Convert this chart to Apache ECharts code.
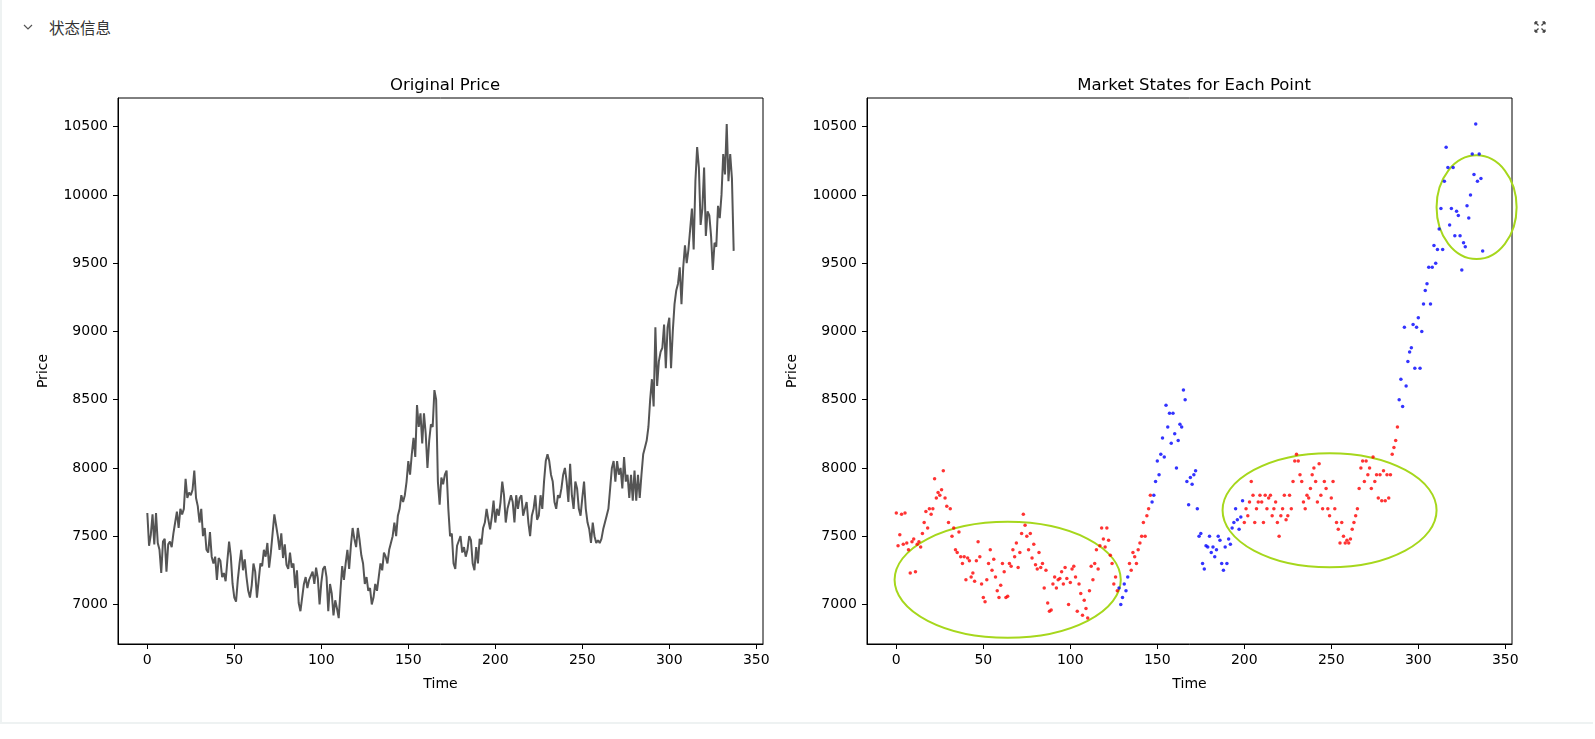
<!DOCTYPE html>
<html>
<head>
<meta charset="utf-8">
<script src="https://cdn.jsdelivr.net/npm/echarts@6/dist/echarts.min.js"></script>
<style>
html,body{margin:0;padding:0;width:1595px;height:739px;background:#fff;overflow:hidden;font-family:"DejaVu Sans",sans-serif;}
#card{position:absolute;left:0;top:0;width:1593px;height:724px;border-left:2px solid #eef2f2;border-bottom:2px solid #eef2f2;box-sizing:border-box;}
#hdr{position:absolute;left:49px;top:16px;font-family:"Noto Sans CJK SC",sans-serif;font-size:15.5px;color:#333;}
#chev{position:absolute;left:22px;top:21px;}
#exp{position:absolute;left:1534px;top:21px;}
#chart{position:absolute;left:0;top:0;width:1595px;height:739px;}
</style>
</head>
<body>
<div id="card"></div>
<svg id="chev" width="12" height="12" viewBox="0 0 12 12"><polyline points="2,4 6,8 10,4" fill="none" stroke="#555" stroke-width="1.2"/></svg>
<div id="hdr">状态信息</div>
<svg id="exp" width="12" height="12" viewBox="0 0 12 12" stroke="#444" stroke-width="1.3" fill="none"><path d="M1,1 L4.5,4.5 M1,1 h2.5 M1,1 v2.5 M11,1 L7.5,4.5 M11,1 h-2.5 M11,1 v2.5 M1,11 L4.5,7.5 M1,11 h2.5 M1,11 v-2.5 M11,11 L7.5,7.5 M11,11 h-2.5 M11,11 v-2.5"/></svg>
<div id="chart"></div>
<script>
// price series, one value per time step (index = time)
const prices = [
7670,7430,7510,7660,7440,7670,7450,7400,7230,7460,
7480,7240,7440,7460,7420,7520,7600,7680,7560,7700,
7660,7700,7920,7780,7820,7800,7840,7980,7780,7720,
7600,7700,7500,7560,7400,7380,7530,7350,7300,7350,
7180,7340,7320,7200,7230,7170,7320,7460,7350,7150,
7050,7020,7180,7300,7400,7250,7330,7200,7100,7050,
7140,7300,7240,7050,7060,7300,7280,7400,7350,7450,
7270,7380,7520,7660,7580,7500,7400,7520,7340,7440,
7290,7260,7380,7270,7300,7120,7250,7010,6950,6960,
7150,7200,7120,7180,7190,7240,7150,7270,7190,7000,
7160,7260,7280,7200,6950,7150,7080,6920,7030,6970,
6900,7100,7280,7180,7300,7400,7260,7430,7560,7480,
7420,7560,7470,7360,7300,7150,7200,7100,7120,7000,
7050,7150,7100,7200,7300,7250,7380,7350,7300,7400,
7450,7500,7600,7500,7650,7700,7800,7750,7800,7900,
8050,7950,8100,8220,8080,8460,8300,8400,8180,8400,
8250,8000,8200,8320,8300,8570,8500,7900,7730,7930,
7880,7950,7980,7700,7500,7520,7300,7260,7430,7420,
7500,7380,7420,7350,7400,7500,7470,7300,7250,7420,
7300,7480,7440,7560,7600,7700,7620,7550,7640,7760,
7600,7700,7650,7750,7900,7800,7600,7700,7750,7800,
7750,7600,7800,7700,7780,7800,7650,7700,7750,7600,
7500,7650,7700,7800,7620,7650,7800,7700,7900,8050,
8100,8050,7950,7900,7750,7700,7800,7780,7850,7950,
8000,7900,7750,8030,7800,7700,7900,7850,7700,7650,
7780,7900,7700,7600,7550,7450,7600,7500,7450,7470,
7450,7480,7550,7600,7650,7700,7850,8000,8050,7900,
8050,7950,8000,7850,8080,7900,7950,7780,7950,7760,
7980,7760,7950,7780,7950,8100,8150,8200,8300,8500,
8650,8450,9030,8600,8780,8850,8880,9050,8730,9030,
9100,8730,9000,9200,9300,9350,9470,9200,9470,9630,
9500,9600,9750,9900,9600,10100,10350,10200,9780,9900,
10200,9700,9880,9850,9700,9450,9650,9620,9920,9830,
10000,10300,10150,10520,10100,10300,10120,9590
];
// market state runs: [state, run length]  (0 = red state, 1 = blue state)
const stateRuns = [[0,128],[1,6],[0,13],[1,53],[0,89],[1,49]];
const stateColors = ['#ff0000','#0000ff'];
// highlighted regions: [centerTime, centerPrice, halfWidthTime, halfHeightPrice]
const ellipses = [[64,7180,65,425],[249,7690,61.5,418],[333.5,9910,23,380]];
const xTicks = [0,50,100,150,200,250,300,350];
const yTicks = [7000,7500,8000,8500,9000,9500,10000,10500];

const states = [];
stateRuns.forEach(([s,n]) => { for (let k = 0; k < n; k++) states.push(s); });
const linePts = prices.map((p,i) => [i,p]);
const scatterPts = prices.map((p,i) => ({value:[i,p], itemStyle:{color:stateColors[states[i] || 0]}}));

const font = '"DejaVu Sans", sans-serif';
function xAxis(gi){
  return {type:'value', gridIndex:gi, min:-16.85, max:353.85, name:'Time', nameLocation:'middle', nameGap:33,
    nameTextStyle:{color:'#000', fontSize:14, fontFamily:font},
    axisLine:{show:true, onZero:false, lineStyle:{color:'#000', width:1}},
    axisTick:{show:true, inside:false, length:5, lineStyle:{color:'#000'}, customValues:xTicks},
    axisLabel:{color:'#000', fontSize:14, fontFamily:font, margin:9, customValues:xTicks, formatter:v => String(v)},
    splitLine:{show:false}};
}
function yAxis(gi){
  return {type:'value', gridIndex:gi, min:6710, max:10710, name:'Price', nameLocation:'middle', nameGap:68, nameRotate:90,
    nameTextStyle:{color:'#000', fontSize:14, fontFamily:font},
    axisLine:{show:true, onZero:false, lineStyle:{color:'#000', width:1}},
    axisTick:{show:true, inside:false, length:5, lineStyle:{color:'#000'}, customValues:yTicks},
    axisLabel:{color:'#000', fontSize:14, fontFamily:font, margin:10, customValues:yTicks, formatter:v => String(v)},
    splitLine:{show:false}};
}
const chart = echarts.init(document.getElementById('chart'), null, {renderer:'canvas'});
chart.setOption({
  animation:false,
  backgroundColor:'transparent',
  title:[
    {text:'Original Price', left:440, top:72, textAlign:'center', textStyle:{fontSize:16.5, fontWeight:'normal', color:'#000', fontFamily:font}},
    {text:'Market States for Each Point', left:1189, top:72, textAlign:'center', textStyle:{fontSize:16.5, fontWeight:'normal', color:'#000', fontFamily:font}}
  ],
  grid:[
    {left:118, top:98, width:645, height:546, show:true, borderColor:'#000', borderWidth:1, backgroundColor:'transparent'},
    {left:867, top:98, width:645, height:546, show:true, borderColor:'#000', borderWidth:1, backgroundColor:'transparent'}
  ],
  xAxis:[xAxis(0), xAxis(1)],
  yAxis:[yAxis(0), yAxis(1)],
  series:[
    {type:'line', xAxisIndex:0, yAxisIndex:0, data:linePts, showSymbol:false, lineStyle:{color:'#555555', width:2}},
    {type:'scatter', xAxisIndex:1, yAxisIndex:1, data:scatterPts, symbolSize:3.5},
    {type:'custom', xAxisIndex:1, yAxisIndex:1, data:ellipses, silent:true, clip:false,
      renderItem:function(params, api){
        const tl = api.coord([api.value(0)-api.value(2), api.value(1)+api.value(3)]);
        const br = api.coord([api.value(0)+api.value(2), api.value(1)-api.value(3)]);
        return {type:'path', shape:{pathData:'M0,50 A50,50 0 1,0 100,50 A50,50 0 1,0 0,50 Z',
          x:tl[0], y:tl[1], width:br[0]-tl[0], height:br[1]-tl[1], layout:'cover'},
          style:{fill:'none', stroke:'#a6d71c', lineWidth:2}};
      }}
  ]
});
</script>
</body>
</html>
